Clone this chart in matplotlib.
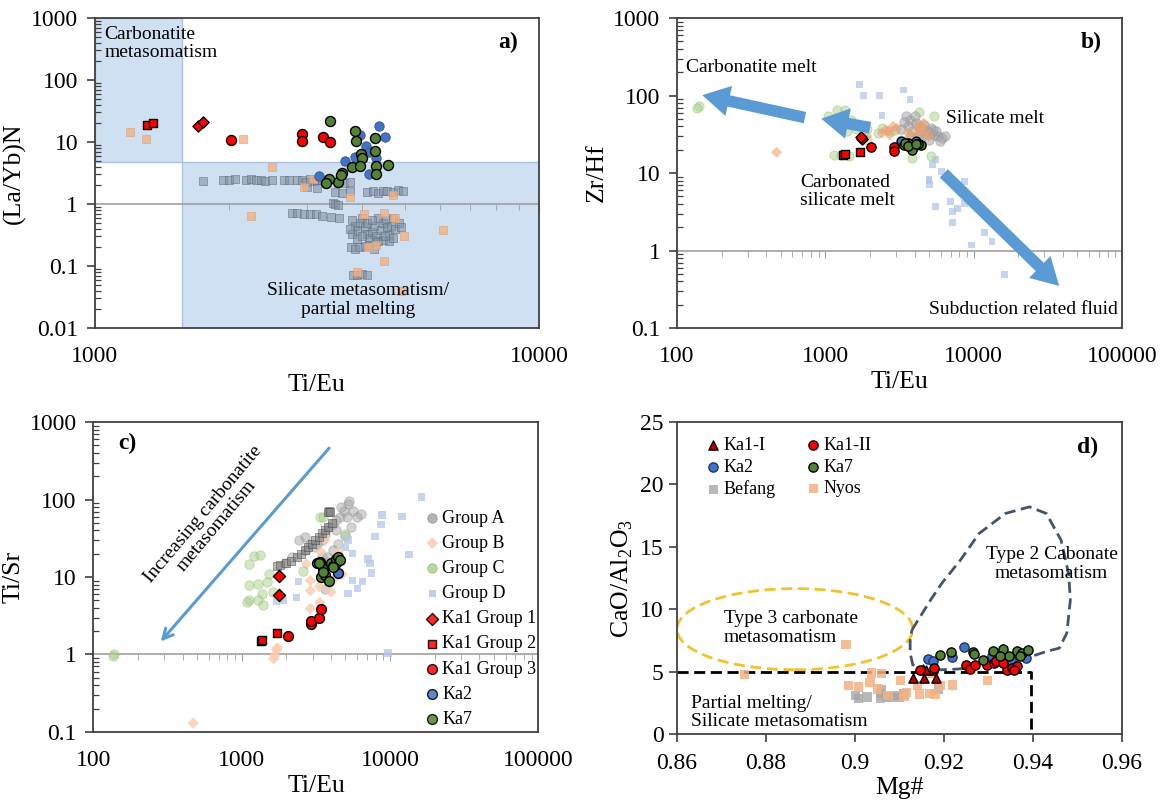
import numpy as np
import matplotlib
matplotlib.use('Agg')
import matplotlib.pyplot as plt
from matplotlib.patches import Rectangle, Ellipse, Polygon
from matplotlib.ticker import LogLocator, NullFormatter, FuncFormatter, MultipleLocator

plt.rcParams['font.family'] = 'Liberation Serif'
plt.rcParams['mathtext.fontset'] = 'custom'
plt.rcParams['mathtext.rm'] = 'Liberation Serif'

# ── colours ──────────────────────────────────────────────────────────────
RED = '#ff0000'
DKRED = '#c00000'
BLUE = '#4472c4'
GREEN = '#548235'
BEFANG = '#8392a3'
NYOS = '#f4b183'
GRP_A = '#a6a6a6'
GRP_B = '#f8cbad'
GRP_C = '#a9d18e'
GRP_D = '#b4c7e7'
ARROW = '#5b9bd5'

# ── a) Ti/Eu vs (La/Yb)N ─────────────────────────────────────────────────
a_ka1g1_x = [1710, 1755]
a_ka1g1_y = [18, 21]
a_ka1g2_x = [1310, 1350]
a_ka1g2_y = [18.5, 20]
a_ka1g3_x = [2020, 2920, 2930, 3260, 3390]
a_ka1g3_y = [10.9, 13.5, 10.5, 12, 9.9]
a_ka2_x = [4365, 4490, 3960, 4080, 4150, 3665, 3845, 3200, 4150, 4300]
a_ka2_y = [18.3, 12, 12.8, 8.5, 7.0, 4.9, 5.8, 2.8, 3.1, 5.5]
a_ka7_x = [3390, 3845, 3880, 3980, 3990, 4275, 4275, 4300, 4300, 4580,
           3800, 3960, 3595, 3525, 3360, 3310, 3590]
a_ka7_y = [21.5, 15.2, 10.5, 6.5, 5.5, 11.6, 7.3, 4.15, 3.05, 4.2,
           3.9, 4.1, 3.16, 2.26, 2.5, 2.2, 2.9]
a_bef_x = [1755, 1940, 2000, 2070, 2190, 2245, 2310, 2370, 2420, 2510,
           2660, 2740, 2850, 2930, 2990, 3050, 3110, 3170, 3240,
           3000, 3160, 3520, 3640, 3750, 3475, 3600, 3750, 4100, 4220,
           4340, 4460, 4550, 4680, 4810, 4940, 3435, 3480, 3520,
           2780, 2850, 2950, 3050, 3150, 3250, 3400, 3550,
           3800, 3850, 3900, 3950, 4000, 4050, 4100, 4150, 4200, 4250,
           4300, 4350, 4400, 4450, 4500, 4550, 4600, 4650, 4700, 4750,
           4850, 4900, 3780, 3850, 3950, 4050, 4150, 4300, 4450, 4600,
           3800, 3900, 4000, 4250, 4500, 3750, 4100, 4350, 4700, 4200,
           3810, 3900, 4000, 4100]
a_bef_y = [2.35, 2.45, 2.4, 2.5, 2.45, 2.5, 2.4, 2.45, 2.35, 2.4,
           2.45, 2.4, 2.4, 2.45, 2.3, 2.5, 2.35, 2.4, 2.45,
           1.86, 1.8, 2.2, 2.15, 2.25, 1.56, 1.5, 1.6, 1.55, 1.6,
           1.5, 1.65, 1.6, 1.55, 1.7, 1.62, 1.05, 1.0, 0.98,
           0.72, 0.73, 0.7, 0.68, 0.7, 0.65, 0.62, 0.6,
           0.55, 0.45, 0.38, 0.5, 0.6, 0.42, 0.33, 0.28, 0.36, 0.45,
           0.3, 0.25, 0.38, 0.5, 0.55, 0.42, 0.32, 0.45, 0.6, 0.4,
           0.5, 0.42, 0.2, 0.19, 0.2, 0.21, 0.22, 0.24, 0.26, 0.25,
           0.33, 0.27, 0.3, 0.19, 0.3, 0.4, 0.5, 0.6, 0.28, 0.55,
           0.072, 0.072, 0.074, 0.072]
a_nyos_x = [1200, 1300, 2150, 2510, 2245, 3095, 2960, 3755, 4040, 4480,
            4740, 4700, 4970, 6070, 4480, 3890, 4130, 4300, 4900]
a_nyos_y = [14.5, 11, 11, 4, 0.65, 2.5, 1.9, 1.3, 0.7, 0.72,
            0.6, 1.4, 0.3, 0.38, 0.12, 0.08, 0.2, 0.22, 0.04]

# ── b) Ti/Eu vs Zr/Hf ────────────────────────────────────────────────────
b_grpA_x = [3515, 3720, 4060, 4300, 4570, 4840, 5130, 5430, 5750, 6100,
            6460, 5130, 4700, 4300, 3850, 3600, 3230, 4400, 5600, 4980,
            5900, 3400, 4000, 4600, 5300, 3700]
b_grpA_y = [53.8, 49, 44, 40, 36.5, 34.5, 33, 31.4, 30, 28.2,
            30, 38, 31, 30, 34.5, 40, 36.5, 34.5, 34.5, 27,
            25.8, 45, 55, 42, 36, 30]
b_grpB_x = [2415, 2640, 2860, 3030, 2725, 4170, 4450, 4700, 5000, 4330,
            1910, 469, 3600, 3850, 2550, 4600]
b_grpB_y = [32.8, 34.5, 40, 38, 31, 38, 40, 34.5, 30, 33,
            30, 18.5, 33, 30, 36, 44]
b_grpC_x = [140, 136, 1205, 1355, 1480, 1280, 1395, 1600, 1910, 2280,
            2710, 1140, 1280, 1440, 3850, 5130, 4300, 5430, 3230, 3600,
            1040, 1910, 2400, 2950]
b_grpC_y = [74, 69, 65, 65, 49, 40, 34.5, 36.5, 36.5, 33,
            34.5, 17.3, 16.9, 16.6, 15.8, 16.6, 62, 55, 27, 24.5,
            54, 27, 38, 36]
b_grpD_x = [1706, 1800, 2310, 3360, 3720, 2410, 5000, 5000, 5050, 5270,
            5560, 6050, 5560, 6990, 7200, 7200, 7800, 8700, 8700, 9700,
            11900, 13300, 16200]
b_grpD_y = [138, 100, 100, 118, 88, 55, 8.2, 8.0, 7.1, 13,
            15, 10.5, 3.7, 4.3, 3.2, 2.3, 3.5, 7.8, 4.0, 1.18,
            1.7, 1.3, 0.49]
b_ka1g1_x = [1760, 1745]
b_ka1g1_y = [27.7, 29]
b_ka1g2_x = [1315, 1355, 1725]
b_ka1g2_y = [17.3, 17.8, 18.5]
b_ka1g3_x = [2030, 2924, 2924]
b_ka1g3_y = [21.4, 21.4, 19]
b_ka2_x = [3230, 4070]
b_ka2_y = [25.6, 25.6]
b_ka7_x = [3380, 3620, 3840, 4070, 4310, 4430, 3840, 4190, 3460, 3620, 4070]
b_ka7_y = [22.8, 24.4, 21, 22.8, 23.9, 22.8, 20, 23.6, 24.4, 22, 24]

# ── c) Ti/Eu vs Ti/Sr ────────────────────────────────────────────────────
c_grpA_x = [2430, 2660, 2900, 3140, 3460, 3650, 3870, 4100, 4350, 4600,
            4900, 5190, 5300, 5600, 5960, 6320, 5450, 5000, 4480, 4100,
            3730, 3460, 2710, 2170, 1950, 3650, 3200, 4700, 5100, 4300]
c_grpA_y = [30, 33, 27, 24.5, 30, 36, 44, 49, 54, 59,
            72, 88, 97, 72, 59, 65, 44, 34, 27, 22,
            18, 18, 22, 18, 15, 7.1, 27, 80, 60, 40]
c_bef_x = [3870, 3800, 3950, 1718, 1800, 1990, 2160, 2370, 2510, 2660,
           2800, 2960, 3140, 3340, 3460, 3650, 3800, 4050]
c_bef_y = [72, 70, 70, 13.7, 14.3, 15, 16.3, 18, 20, 22.5,
           24.5, 27, 29.7, 32.7, 37, 40, 44, 50]
c_grpB_x = [1672, 1640, 1740, 1720, 471, 2900, 2900, 2900, 3350, 3990,
            4750, 3350, 4300, 3420, 3650, 2720, 4450]
c_grpB_y = [0.97, 0.88, 1.22, 1.15, 0.13, 9, 6.7, 3.9, 4.7, 6.4,
            10.8, 7.5, 10, 21, 30, 14.7, 21]
c_grpC_x = [138, 135, 1112, 1210, 1320, 1120, 1290, 1520, 1370, 1290,
            1120, 1400, 1090, 1620, 1480, 3350, 3550, 2580, 5000]
c_grpC_y = [1.0, 0.95, 14.9, 18.5, 19, 7.8, 8.2, 11, 6, 5,
            5, 4.3, 4.7, 6.4, 8.6, 59, 59, 12, 36]
c_grpD_x = [16200, 8800, 8700, 12000, 7900, 13400, 7100, 7300, 7500, 6500,
            6000, 5600, 5200, 5600, 5000, 9700, 2400, 2350, 1900, 1710,
            5200]
c_grpD_y = [108, 63, 48, 60, 33, 19.5, 17, 15, 11.3, 8.7,
            7.1, 9, 6.1, 20, 24, 1.05, 8.7, 5.4, 5, 4.8,
            30]
c_ka1g1_x = [1770, 1770]
c_ka1g1_y = [10.3, 5.8]
c_ka1g2_x = [1340, 1360, 1740]
c_ka1g2_y = [1.49, 1.55, 1.91]
c_ka1g3_x = [2046, 2950, 2950, 3300, 3410]
c_ka1g3_y = [1.73, 2.5, 2.74, 2.98, 3.83]
c_ka2_x = [4480, 3215]
c_ka2_y = [11.4, 15.2]
c_ka7_x = [3350, 3550, 3410, 3650, 3870, 3990, 4110, 4350, 4350, 4480,
           4610, 4110, 3300, 3550]
c_ka7_y = [15.6, 12.8, 10, 10.5, 8.8, 15.3, 13.9, 15.3, 17.2, 18,
           16.6, 13.5, 15.3, 11.6]

# ── d) Mg# vs CaO/Al2O3 ──────────────────────────────────────────────────
d_ka1i_x = [0.913, 0.9155, 0.9183, 0.9153, 0.9174, 0.916]
d_ka1i_y = [4.48, 4.48, 4.48, 5.2, 5.14, 5.1]
d_ka1ii_x = [0.9145, 0.9177, 0.925, 0.9258, 0.927, 0.9296, 0.9312, 0.9318,
             0.9342, 0.9353, 0.9363, 0.9358, 0.9333]
d_ka1ii_y = [5.14, 5.28, 5.54, 5.2, 5.54, 5.54, 5.68, 5.81,
             5.1, 5.28, 5.41, 5.14, 5.68]
d_ka2_x = [0.9163, 0.9176, 0.9219, 0.9244, 0.9308, 0.9384, 0.935]
d_ka2_y = [6.0, 5.81, 6.16, 6.96, 6.26, 6.08, 5.94]
d_ka7_x = [0.9191, 0.9216, 0.9265, 0.9287, 0.931, 0.9333, 0.9346, 0.9363,
           0.9375, 0.9388, 0.9371, 0.9325, 0.9267]
d_ka7_y = [6.34, 6.56, 6.61, 5.94, 6.69, 6.8, 6.26, 6.69,
           6.48, 6.74, 6.21, 6.21, 6.42]
d_bef_x = [0.9002, 0.9008, 0.9027, 0.9057, 0.906, 0.9071, 0.9078, 0.9088,
           0.9099, 0.911, 0.9057, 0.9187, 0.9346, 0.9354]
d_bef_y = [3.07, 2.83, 2.96, 3.22, 3.55, 3.01, 2.93, 3.07,
           2.93, 3.2, 2.83, 3.6, 5.89, 5.68]
d_nyos_x = [0.8751, 0.898, 0.8986, 0.9008, 0.9034, 0.9038, 0.9059, 0.9051,
            0.9074, 0.9103, 0.9115, 0.9141, 0.9145, 0.9168, 0.918, 0.9174,
            0.9193, 0.9219, 0.9297, 0.911]
d_nyos_y = [4.74, 7.2, 3.86, 3.76, 4.13, 4.88, 4.82, 3.6,
            3.07, 4.26, 3.33, 3.86, 3.2, 3.22, 3.2, 4.88,
            3.86, 3.92, 4.26, 3.0]
type2_mg = [0.9128, 0.917, 0.9195, 0.9237, 0.9279, 0.9338, 0.9392, 0.943,
            0.9463, 0.948, 0.9484, 0.9476, 0.9459, 0.943, 0.9396, 0.9354,
            0.9296, 0.9229, 0.9162, 0.913, 0.9124, 0.9124]
type2_ca = [8.34, 10.74, 12.07, 13.94, 16.07, 17.67, 18.2, 17.67,
            15.54, 12.87, 10.74, 8.08, 6.88, 6.61, 6.21, 5.81,
            5.41, 5.2, 5.1, 5.54, 6.48, 7.54]

fmt = FuncFormatter(lambda v, p: f'{v:g}')
SPINE = '#404040'
TICK_FS = 17
LABEL_FS = 18.5
NOTE_FS = 14


def style_log(ax, xlim, ylim, cross):
    ax.set_xscale('log')
    ax.set_yscale('log')
    ax.set_xlim(*xlim)
    ax.set_ylim(*ylim)
    for a in (ax.xaxis, ax.yaxis):
        a.set_major_locator(LogLocator(base=10, numticks=20))
        a.set_minor_locator(LogLocator(base=10, subs=np.arange(2, 10), numticks=50))
        a.set_major_formatter(fmt)
        a.set_minor_formatter(NullFormatter())
    ax.tick_params(axis='x', which='both', length=0, labelsize=TICK_FS, pad=13)
    ax.tick_params(axis='y', which='major', direction='out', length=6,
                   width=1.2, color=SPINE, labelsize=TICK_FS, pad=6)
    ax.tick_params(axis='y', which='minor', direction='in', length=4,
                   width=0.9, color=SPINE)
    for s in ax.spines.values():
        s.set_color(SPINE)
        s.set_linewidth(1.3)
    # horizontal axis crossing at 1
    sec = ax.secondary_xaxis(cross)
    sec.spines['bottom'].set_color('#a0a0a0')
    sec.spines['bottom'].set_linewidth(1.2)
    sec.xaxis.set_minor_locator(LogLocator(base=10, subs=np.arange(2, 10), numticks=50))
    sec.xaxis.set_major_formatter(NullFormatter())
    sec.xaxis.set_minor_formatter(NullFormatter())
    sec.tick_params(which='major', length=5, color='#a0a0a0', direction='out')
    sec.tick_params(which='minor', length=4, color='#a0a0a0', direction='out')


def pts(ax, x, y, marker, fc, ec, s, alpha=1.0, lw=1.0, label=None, z=3):
    ax.scatter(x, y, marker=marker, s=s, facecolor=fc, edgecolor=ec,
               linewidths=lw, alpha=alpha, label=label, zorder=z)


fig = plt.figure(figsize=(11.68, 8.02), dpi=100)
ax_a = fig.add_axes([0.0813, 0.591, 0.3801, 0.3865])
ax_b = fig.add_axes([0.5796, 0.591, 0.381, 0.3865])
ax_c = fig.add_axes([0.0800, 0.0873, 0.381, 0.3865])
ax_d = fig.add_axes([0.5796, 0.0848, 0.381, 0.389])

# ── panel a ──
style_log(ax_a, (1000, 10000), (0.01, 1000), 0.4)
ax_a.add_patch(Rectangle((1000, 4.7), 571, 1000, facecolor='#cfe0f2',
                         edgecolor='#a9c3de', lw=1, zorder=0))
ax_a.add_patch(Rectangle((1571, 0.01), 10000 - 1571, 4.7 - 0.01, facecolor='#cfe0f2',
                         edgecolor='#a9c3de', lw=1, zorder=0))
pts(ax_a, a_bef_x, a_bef_y, 's', BEFANG, '#5d6b7b', 36, alpha=0.6, lw=0.6)
pts(ax_a, a_nyos_x, a_nyos_y, 's', NYOS, '#e0a070', 34, alpha=0.8, lw=0.5)
pts(ax_a, a_ka2_x, a_ka2_y, 'o', BLUE, '#2f5597', 46, lw=0.6)
pts(ax_a, a_ka7_x, a_ka7_y, 'o', GREEN, 'black', 52)
pts(ax_a, a_ka1g3_x, a_ka1g3_y, 'o', RED, 'black', 52)
pts(ax_a, a_ka1g2_x, a_ka1g2_y, 's', RED, 'black', 36)
pts(ax_a, a_ka1g1_x, a_ka1g1_y, 'D', RED, 'black', 32)
ax_a.set_xlabel('Ti/Eu', fontsize=LABEL_FS, labelpad=5)
ax_a.set_ylabel('(La/Yb)N', fontsize=LABEL_FS, labelpad=4)
ax_a.text(0.021, 0.975, 'Carbonatite\nmetasomatism', transform=ax_a.transAxes,
          fontsize=NOTE_FS, va='top', ha='left', linespacing=1.1)
ax_a.text(0.593, 0.09, 'Silicate metasomatism/\npartial melting', transform=ax_a.transAxes,
          fontsize=NOTE_FS, va='center', ha='center', linespacing=1.1)
ax_a.text(0.93, 0.92, 'a)', transform=ax_a.transAxes, fontsize=17,
          fontweight='bold', ha='center', va='center')

# ── panel b ──
style_log(ax_b, (100, 100000), (0.1, 1000), 0.25)
pts(ax_b, b_grpD_x, b_grpD_y, 's', GRP_D, 'none', 24, alpha=0.75, z=2)
pts(ax_b, b_grpC_x, b_grpC_y, 'o', GRP_C, '#8fbf70', 44, alpha=0.5, lw=0.6, z=2)
pts(ax_b, b_grpA_x, b_grpA_y, 'o', GRP_A, '#909090', 46, alpha=0.55, lw=0.6, z=2)
pts(ax_b, b_grpB_x, b_grpB_y, 'D', '#f0a070', 'none', 32, alpha=0.6, z=2)
pts(ax_b, b_ka2_x, b_ka2_y, 'o', BLUE, 'black', 40)
pts(ax_b, b_ka7_x, b_ka7_y, 'o', GREEN, 'black', 44)
pts(ax_b, b_ka1g3_x, b_ka1g3_y, 'o', RED, 'black', 44)
pts(ax_b, b_ka1g2_x, b_ka1g2_y, 's', RED, 'black', 34)
pts(ax_b, b_ka1g1_x, b_ka1g1_y, 'D', RED, 'black', 32)
thick = dict(arrowstyle='simple,head_width=0.85,head_length=0.75,tail_width=0.32',
             mutation_scale=26, color=ARROW, lw=0)
ax_b.annotate('', xy=(142, 103), xytext=(760, 51), arrowprops=thick, zorder=4)
ax_b.annotate('', xy=(900, 51), xytext=(2090, 38), arrowprops=thick, zorder=4)
ax_b.annotate('', xy=(38900, 0.33), xytext=(6100, 10.5), arrowprops=thick, zorder=4)
ax_b.set_xlabel('Ti/Eu', fontsize=LABEL_FS, labelpad=3)
ax_b.set_ylabel('Zr/Hf', fontsize=LABEL_FS, labelpad=4)
ax_b.text(0.021, 0.839, 'Carbonatite melt', transform=ax_b.transAxes,
          fontsize=NOTE_FS, va='center', ha='left')
ax_b.text(0.604, 0.677, 'Silicate melt', transform=ax_b.transAxes,
          fontsize=NOTE_FS, va='center', ha='left')
ax_b.text(0.277, 0.44, 'Carbonated\nsilicate melt', transform=ax_b.transAxes,
          fontsize=NOTE_FS, va='center', ha='left', linespacing=1.1)
ax_b.text(0.566, 0.059, 'Subduction related fluid', transform=ax_b.transAxes,
          fontsize=NOTE_FS, va='center', ha='left')
ax_b.text(0.93, 0.92, 'b)', transform=ax_b.transAxes, fontsize=17,
          fontweight='bold', ha='center', va='center')

# ── panel c ──
style_log(ax_c, (100, 100000), (0.1, 1000), 0.25)
pts(ax_c, c_grpA_x, c_grpA_y, 'o', GRP_A, '#909090', 46, alpha=0.5, lw=0.6,
    label='Group A', z=2)
pts(ax_c, c_grpB_x, c_grpB_y, 'D', GRP_B, 'none', 34, alpha=0.8, label='Group B', z=2)
pts(ax_c, c_grpC_x, c_grpC_y, 'o', GRP_C, '#8fbf70', 46, alpha=0.5, lw=0.6,
    label='Group C', z=2)
pts(ax_c, c_grpD_x, c_grpD_y, 's', GRP_D, 'none', 28, alpha=0.75, label='Group D', z=2)
pts(ax_c, c_bef_x, c_bef_y, 's', '#7f7f7f', '#404040', 36, alpha=0.55, lw=0.6, z=2)
pts(ax_c, c_ka1g1_x, c_ka1g1_y, 'D', RED, 'black', 38, label='Ka1 Group 1')
pts(ax_c, c_ka1g2_x, c_ka1g2_y, 's', RED, 'black', 38, label='Ka1 Group 2')
pts(ax_c, c_ka1g3_x, c_ka1g3_y, 'o', RED, 'black', 50, label='Ka1 Group 3')
pts(ax_c, c_ka2_x, c_ka2_y, 'o', BLUE, 'black', 50, label='Ka2')
pts(ax_c, c_ka7_x, c_ka7_y, 'o', GREEN, 'black', 50, label='Ka7')
ax_c.annotate('', xy=(276, 1.38), xytext=(3990, 490),
              arrowprops=dict(arrowstyle='->', color=ARROW, lw=2.2, mutation_scale=18))
ax_c.text(0.262, 0.685, 'Increasing carbonatite\nmetasomatism', transform=ax_c.transAxes,
          fontsize=NOTE_FS, rotation=50, ha='center', va='center', linespacing=1.1,
          rotation_mode='anchor')
ax_c.text(0.076, 0.93, 'c)', transform=ax_c.transAxes, fontsize=17,
          fontweight='bold', ha='center', va='center')
ax_c.set_xlabel('Ti/Eu', fontsize=LABEL_FS, labelpad=3)
ax_c.set_ylabel('Ti/Sr', fontsize=LABEL_FS, labelpad=4)
leg_c = ax_c.legend(loc='upper left', bbox_to_anchor=(0.725, 0.74), frameon=False,
                    fontsize=13, handletextpad=0.05, handlelength=1.0,
                    labelspacing=0.45, borderaxespad=0, scatterpoints=1)
for h in leg_c.legend_handles:
    h.set_alpha(0.85)

# ── panel d ──
ax_d.set_xlim(0.86, 0.96)
ax_d.set_ylim(0, 25)
ax_d.xaxis.set_major_locator(MultipleLocator(0.02))
ax_d.yaxis.set_major_locator(MultipleLocator(5))
ax_d.xaxis.set_major_formatter(fmt)
ax_d.tick_params(which='major', direction='out', length=6, width=1.2, color=SPINE,
                 labelsize=TICK_FS)
ax_d.tick_params(axis='x', pad=8)
for s in ax_d.spines.values():
    s.set_color(SPINE)
    s.set_linewidth(1.3)
ax_d.add_patch(Ellipse((0.8865, 8.4), 0.053, 6.5, fill=False, ls=(0, (4, 2)),
                       edgecolor='#f2c12e', lw=2, zorder=1))
ax_d.add_patch(Polygon(np.column_stack([type2_mg, type2_ca]), closed=True, fill=False,
                       ls=(0, (4, 2)), edgecolor='#44546a', lw=2, zorder=1))
ax_d.plot([0.86, 0.9396, 0.9396], [5, 5, 0], color='black', ls=(0, (4, 2)), lw=2,
          zorder=1, clip_on=False)
pts(ax_d, d_ka1i_x, d_ka1i_y, '^', DKRED, 'black', 44, label='Ka1-I')
pts(ax_d, d_ka2_x, d_ka2_y, 'o', BLUE, '#1f3864', 44, label='Ka2')
pts(ax_d, d_bef_x, d_bef_y, 's', GRP_A, 'none', 44, alpha=0.8, label='Befang', z=2)
pts(ax_d, d_ka1ii_x, d_ka1ii_y, 'o', RED, 'black', 44, label='Ka1-II')
pts(ax_d, d_ka7_x, d_ka7_y, 'o', GREEN, 'black', 44, label='Ka7')
pts(ax_d, d_nyos_x, d_nyos_y, 's', NYOS, 'none', 44, alpha=0.85, label='Nyos', z=2)
ax_d.legend(loc='upper left', bbox_to_anchor=(0.045, 0.975), ncol=2, frameon=False,
            fontsize=13, handletextpad=0.05, handlelength=1.0, labelspacing=0.25,
            columnspacing=1.6, borderaxespad=0, scatterpoints=1)
ax_d.text(0.842, 0.545, 'Type 2 Cabonate\nmetasomatism', transform=ax_d.transAxes,
          fontsize=NOTE_FS, ha='center', va='center', linespacing=1.1)
ax_d.text(0.105, 0.34, 'Type 3 carbonate\nmetasomatism', transform=ax_d.transAxes,
          fontsize=NOTE_FS, ha='left', va='center', linespacing=1.1)
ax_d.text(0.032, 0.07, 'Partial melting/\nSilicate metasomatism', transform=ax_d.transAxes,
          fontsize=NOTE_FS, ha='left', va='center', linespacing=1.1)
ax_d.text(0.922, 0.92, 'd)', transform=ax_d.transAxes, fontsize=17,
          fontweight='bold', ha='center', va='center')
ax_d.set_xlabel('Mg#', fontsize=LABEL_FS, labelpad=2)
ax_d.set_ylabel('CaO/Al$_2$O$_3$', fontsize=LABEL_FS, labelpad=4)

fig.savefig('out.png', dpi=100)
